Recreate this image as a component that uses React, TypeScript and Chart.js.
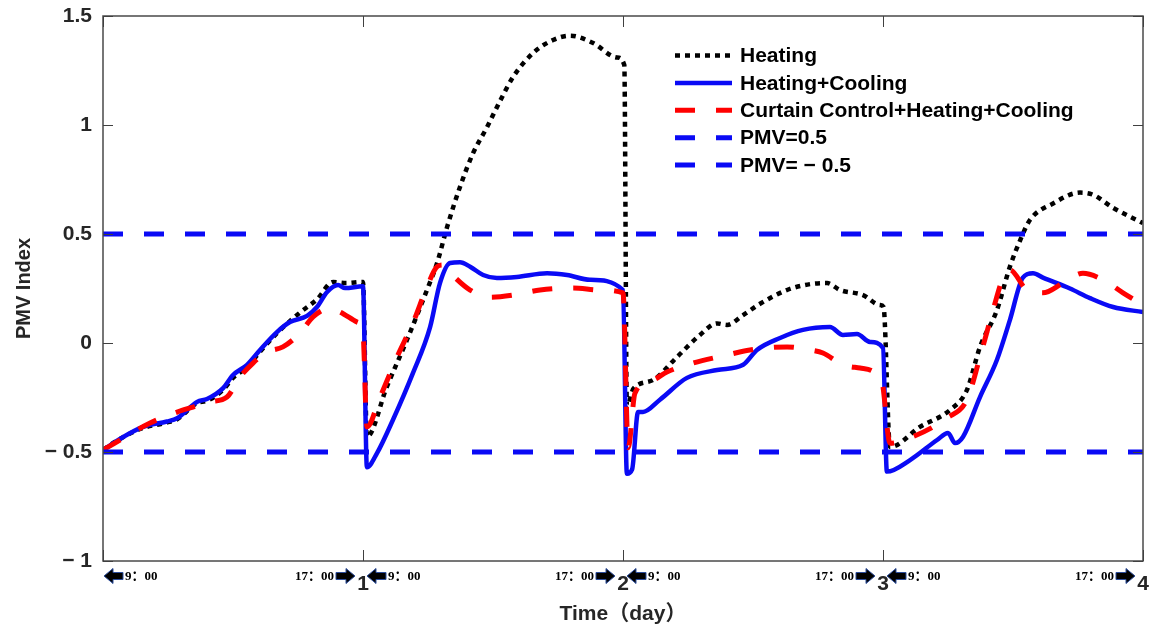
import React, { useEffect, useRef } from 'react';
import { Chart, registerables } from 'chart.js';

Chart.register(...registerables);

// ---- data (x in days, y = PMV index) ----
const heatingX = [0, 0.065, 0.154, 0.246, 0.285, 0.362, 0.4, 0.462, 0.5, 0.554, 0.604, 0.669, 0.758, 0.823, 0.885, 0.935, 1.0,
  1.015, 1.092, 1.169, 1.246, 1.285, 1.323, 1.373, 1.423, 1.477, 1.527, 1.577, 1.654, 1.731, 1.796, 1.885, 1.977, 2.005,
  2.015, 2.04, 2.115, 2.208, 2.296, 2.362, 2.4, 2.462, 2.527, 2.631, 2.719, 2.785, 2.835, 2.923, 2.988, 3.002,
  3.027, 3.142, 3.258, 3.323, 3.373, 3.438, 3.488, 3.527, 3.565, 3.654, 3.758, 3.808, 3.885, 4.0];
const heatingY = [-0.49, -0.44, -0.39, -0.365, -0.35, -0.275, -0.265, -0.215, -0.16, -0.11, -0.04, 0.045, 0.14, 0.2, 0.28, 0.275, 0.28,
  -0.43, -0.2, 0.014, 0.243, 0.367, 0.53, 0.716, 0.87, 0.99, 1.11, 1.22, 1.33, 1.39, 1.41, 1.376, 1.31, 1.275,
  -0.29, -0.21, -0.17, -0.064, 0.037, 0.09, 0.083, 0.128, 0.18, 0.243, 0.27, 0.275, 0.243, 0.22, 0.174, 0.165,
  -0.477, -0.385, -0.307, -0.215, -0.018, 0.15, 0.35, 0.47, 0.564, 0.64, 0.69, 0.68, 0.62, 0.55];

const coolingX = [0, 0.014, 0.065, 0.154, 0.246, 0.285, 0.362, 0.4, 0.462, 0.5, 0.554, 0.604, 0.669, 0.719, 0.785, 0.823, 0.862, 0.904, 0.931, 1.0,
  1.015, 1.054, 1.115, 1.192, 1.258, 1.296, 1.335, 1.373, 1.412, 1.462, 1.515, 1.592, 1.708, 1.785, 1.873, 2.0,
  2.015, 2.035, 2.058, 2.077, 2.142, 2.246, 2.362, 2.462, 2.515, 2.604, 2.692, 2.796, 2.846, 2.9, 2.95, 3.0,
  3.015, 3.104, 3.208, 3.25, 3.277, 3.308, 3.373, 3.438, 3.488, 3.538, 3.577, 3.615, 3.719, 3.796, 3.885, 4.0];
const coolingY = [-0.49, -0.48, -0.44, -0.385, -0.36, -0.345, -0.27, -0.257, -0.207, -0.147, -0.1, -0.032, 0.05, 0.096, 0.124, 0.165, 0.234, 0.266, 0.252, 0.26,
  -0.57, -0.505, -0.353, -0.138, 0.073, 0.275, 0.367, 0.37, 0.35, 0.312, 0.298, 0.303, 0.32, 0.312, 0.29, 0.243,
  -0.6, -0.58, -0.316, -0.316, -0.26, -0.16, -0.124, -0.1, -0.032, 0.023, 0.06, 0.073, 0.037, 0.041, 0.005, -0.023,
  -0.59, -0.537, -0.445, -0.413, -0.459, -0.43, -0.248, -0.078, 0.105, 0.3, 0.32, 0.3, 0.25, 0.206, 0.165, 0.142];

const curtainX = [0, 0.015, 0.181, 0.285, 0.346, 0.412, 0.477, 0.527, 0.577, 0.631, 0.692, 0.758, 0.808, 0.873, 0.912, 0.977, 1.0,
  1.015, 1.065, 1.131, 1.192, 1.246, 1.285, 1.308, 1.354, 1.412, 1.488, 1.577, 1.681, 1.808, 1.912, 2.0,
  2.02, 2.046, 2.115, 2.169, 2.269, 2.4, 2.488, 2.631, 2.719, 2.769, 2.846, 2.912, 2.995,
  3.027, 3.115, 3.246, 3.323, 3.373, 3.423, 3.462, 3.488, 3.554, 3.615, 3.692, 3.769, 3.846, 3.923, 4.0];
const curtainY = [-0.49, -0.48, -0.367, -0.317, -0.294, -0.27, -0.248, -0.156, -0.092, -0.041, -0.018, 0.046, 0.12, 0.16, 0.142, 0.096, 0.046,
  -0.385, -0.25, -0.064, 0.092, 0.257, 0.35, 0.358, 0.3, 0.243, 0.21, 0.22, 0.243, 0.252, 0.243, 0.23,
  -0.48, -0.23, -0.17, -0.133, -0.092, -0.055, -0.032, -0.018, -0.032, -0.046, -0.1, -0.115, -0.175,
  -0.46, -0.43, -0.344, -0.26, -0.064, 0.15, 0.3, 0.335, 0.243, 0.23, 0.275, 0.32, 0.29, 0.23, 0.174];

const pmvX = [0, 4];
const pmvHigh = [0.5, 0.5];
const pmvLow = [-0.5, -0.5];

const seriesLabels = ['Heating', 'Heating+Cooling', 'Curtain Control+Heating+Cooling', 'PMV=0.5', 'PMV= − 0.5'];
const yTickLabels: Record<string, string> = { '1.5': '1.5', '1': '1', '0.5': '0.5', '0': '0', '-0.5': '− 0.5', '-1': '− 1' };
const yTickValues = [-1, -0.5, 0, 0.5, 1, 1.5];
const dayTicks = [0, 1, 2, 3, 4];
const morningLabel = '9：00';
const eveningLabel = '17：00';

const pts = (xs: number[], ys: number[]) => xs.map((x, i) => ({ x, y: ys[i] }));

const SANS = '"Liberation Sans", Arial, "Noto Sans CJK SC", sans-serif';
const SERIF = '"Liberation Serif", "Times New Roman", "Noto Sans CJK SC", serif';
const AX = '#262626';

function drawArrow(ctx: CanvasRenderingContext2D, x0: number, yc: number, dir: 1 | -1) {
  const w = 19, head = 9, hh = 7.5, sh = 3.5;
  const X = (d: number) => (dir === 1 ? x0 + d : x0 + w - d);
  ctx.beginPath();
  ctx.moveTo(X(0), yc - sh);
  ctx.lineTo(X(w - head), yc - sh);
  ctx.lineTo(X(w - head), yc - hh);
  ctx.lineTo(X(w), yc);
  ctx.lineTo(X(w - head), yc + hh);
  ctx.lineTo(X(w - head), yc + sh);
  ctx.lineTo(X(0), yc + sh);
  ctx.closePath();
  ctx.fillStyle = '#000';
  ctx.fill();
  ctx.strokeStyle = '#2b4c9b';
  ctx.lineWidth = 1;
  ctx.stroke();
}

const decorPlugin = {
  id: 'decor',
  afterDraw(chart: any) {
    const { ctx, chartArea: a, scales } = chart;
    const xs = scales.x, ys = scales.y;
    ctx.save();
    // box
    ctx.strokeStyle = '#4a4a4a';
    ctx.lineWidth = 1.5;
    ctx.setLineDash([]);
    ctx.strokeRect(a.left, a.top, a.right - a.left, a.bottom - a.top);
    // inward ticks
    ctx.strokeStyle = '#404040';
    ctx.lineWidth = 1;
    ctx.beginPath();
    ys.ticks.forEach((t: any) => {
      const y = Math.round(ys.getPixelForValue(t.value)) + 0.5;
      ctx.moveTo(a.left, y); ctx.lineTo(a.left + 10, y);
      ctx.moveTo(a.right, y); ctx.lineTo(a.right - 10, y);
    });
    xs.ticks.forEach((t: any) => {
      const x = Math.round(xs.getPixelForValue(t.value)) + 0.5;
      ctx.moveTo(x, a.bottom); ctx.lineTo(x, a.bottom - 11);
      ctx.moveTo(x, a.top); ctx.lineTo(x, a.top + 11);
    });
    ctx.stroke();

    // time-of-day labels with arrows
    const yc = 576;
    ctx.font = `bold 13px ${SERIF}`;
    ctx.textBaseline = 'middle';
    dayTicks.forEach((d, i) => {
      const p = xs.getPixelForValue(d);
      if (i > 0) {
        ctx.fillStyle = '#000';
        ctx.textAlign = 'right';
        ctx.fillText(eveningLabel, p - 29, yc + 1);
        drawArrow(ctx, p - 27, yc, 1);
      }
      if (i < dayTicks.length - 1) {
        const off = i === 0 ? 1 : 4;
        drawArrow(ctx, p + off, yc, -1);
        ctx.fillStyle = '#000';
        ctx.textAlign = 'left';
        ctx.fillText(morningLabel, p + off + 21, yc + 1);
      }
    });

    // legend
    const lx0 = 675, lx1 = 732, ly0 = 55.5, step = 27.4;
    chart.data.datasets.forEach((ds: any, i: number) => {
      const y = ly0 + i * step;
      ctx.strokeStyle = ds.borderColor;
      ctx.lineWidth = ds.borderWidth;
      ctx.setLineDash(ds.borderDash || []);
      ctx.lineCap = 'butt';
      ctx.beginPath();
      ctx.moveTo(lx0, y);
      ctx.lineTo(lx1, y);
      ctx.stroke();
      ctx.setLineDash([]);
      ctx.fillStyle = '#000';
      ctx.font = `bold 21px ${SANS}`;
      ctx.textAlign = 'left';
      ctx.textBaseline = 'middle';
      ctx.fillText(ds.label, 740, y + 1);
    });
    ctx.restore();
  },
};

export default function App() {
  const ref = useRef<HTMLCanvasElement>(null);
  useEffect(() => {
    if (!ref.current) return;
    const chart = new Chart(ref.current, {
      type: 'line',
      data: {
        datasets: [
          { label: seriesLabels[0], data: pts(heatingX, heatingY), borderColor: '#000000', borderWidth: 4.5, borderDash: [5, 5], order: 5, cubicInterpolationMode: 'monotone' },
          { label: seriesLabels[1], data: pts(coolingX, coolingY), borderColor: '#0a0af5', borderWidth: 4.5, borderDash: [], order: 4, cubicInterpolationMode: 'monotone' },
          { label: seriesLabels[2], data: pts(curtainX, curtainY), borderColor: '#ff0000', borderWidth: 5, borderDash: [20, 21], order: 3, cubicInterpolationMode: 'monotone' },
          { label: seriesLabels[3], data: pts(pmvX, pmvHigh), borderColor: '#0a0af5', borderWidth: 5, borderDash: [20, 21], order: 2 },
          { label: seriesLabels[4], data: pts(pmvX, pmvLow), borderColor: '#0a0af5', borderWidth: 5, borderDash: [20, 21], order: 1 },
        ],
      },
      options: {
        responsive: false,
        animation: false,
        events: [],
        elements: { point: { radius: 0 }, line: { tension: 0, borderCapStyle: 'butt', borderJoinStyle: 'round', fill: false } },
        layout: { padding: { left: 8, top: 16, right: 7, bottom: 0 } },
        plugins: { legend: { display: false }, tooltip: { enabled: false } },
        scales: {
          x: {
            type: 'linear',
            min: 0,
            max: 4,
            afterBuildTicks: (s: any) => { s.ticks = dayTicks.map((v) => ({ value: v })); },
            afterFit: (s: any) => { s.height = 66; s.paddingLeft = 0; s.paddingRight = 0; },
            grid: { display: false, drawTicks: false },
            border: { display: false },
            ticks: {
              autoSkip: false,
              maxRotation: 0,
              padding: 11,
              color: AX,
              font: { family: SANS, size: 21, weight: 'bold' },
              callback: (v: any) => (Number(v) === 0 ? '' : String(v)),
            },
            title: {
              display: true,
              text: 'Time（day）',
              color: AX,
              font: { family: SANS, size: 21, weight: 'bold' },
              padding: { top: 0, bottom: 0 },
            },
          },
          y: {
            min: -1,
            max: 1.5,
            afterBuildTicks: (s: any) => { s.ticks = yTickValues.map((v) => ({ value: v })); },
            afterFit: (s: any) => { s.width = 95; s.paddingTop = 0; s.paddingBottom = 0; },
            grid: { display: false, drawTicks: false },
            border: { display: false },
            ticks: {
              padding: 11,
              color: AX,
              font: { family: SANS, size: 21, weight: 'bold' },
              callback: (v: any) => yTickLabels[String(Number(v))] ?? String(v),
            },
            title: {
              display: true,
              text: 'PMV Index',
              color: AX,
              font: { family: SANS, size: 20, weight: 'bold' },
              padding: { top: 4, bottom: 0 },
            },
          },
        },
      },
      plugins: [decorPlugin],
    });
    return () => chart.destroy();
  }, []);
  return (
    <div style={{ position: 'fixed', left: 0, top: 0, width: 1150, height: 627, background: '#fff' }}>
      <canvas ref={ref} width={1150} height={627} />
    </div>
  );
}
